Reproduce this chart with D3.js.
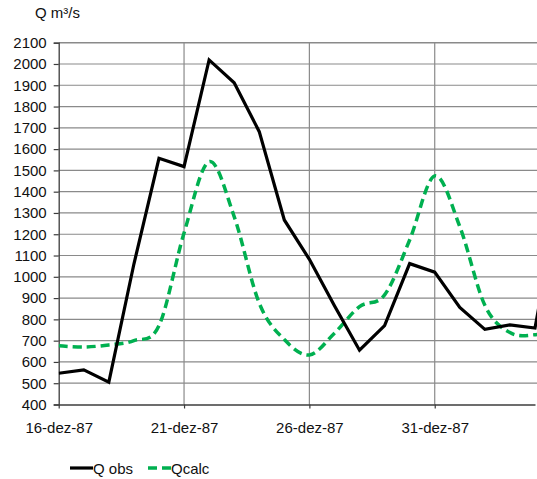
<!DOCTYPE html>
<html>
<head>
<meta charset="utf-8">
<script src="https://cdn.jsdelivr.net/npm/d3@7"></script>
<style>
  body { margin: 0; background: #fff; }
  svg { display: block; font-family: "Liberation Sans", Arial, sans-serif; }
</style>
</head>
<body>
<svg id="chart" width="537" height="479"></svg>
<script>
// daily values, 16-dez-87 onwards
const days = ["16-dez-87", "17-dez-87", "18-dez-87", "19-dez-87", "20-dez-87", "21-dez-87", "22-dez-87",
  "23-dez-87", "24-dez-87", "25-dez-87", "26-dez-87", "27-dez-87", "28-dez-87", "29-dez-87",
  "30-dez-87", "31-dez-87", "01-jan-88", "02-jan-88", "03-jan-88", "04-jan-88", "05-jan-88"];
const qObs = [547, 563, 505, 1060, 1557, 1518, 2019, 1912, 1682, 1267, 1082, 864, 655, 771,
  1062, 1022, 856, 753, 774, 759, 1400];
const qCalc = [676, 670, 680, 700, 770, 1206, 1541, 1283, 876, 705, 633, 735, 860, 915,
  1173, 1474, 1236, 866, 738, 728, 760];
const yTicks = d3.range(400, 2101, 100);
const xTicks = [0, 5, 10, 15];

const svg = d3.select("#chart");
const width = 537;
const margin = { top: 42.7, right: 0, bottom: 74.5, left: 58.7 };
const plotBottom = 479 - margin.bottom;

// Define scales
const xScale = d3.scaleLinear().domain([0, 19]).range([margin.left, 535]);
const yScale = d3.scaleLinear().domain([400, 2100]).range([plotBottom, margin.top]);

svg.append("clipPath").attr("id", "clip")
  .append("rect")
  .attr("x", margin.left).attr("y", 0)
  .attr("width", width - margin.left).attr("height", plotBottom + 2);

// Horizontal gridlines
svg.append("g")
  .selectAll("line")
  .data(yTicks.slice(1))
  .join("line")
  .attr("x1", margin.left).attr("x2", width)
  .attr("y1", (d) => yScale(d)).attr("y2", (d) => yScale(d))
  .attr("stroke", "#8a8a8a")
  .attr("stroke-width", (d) => d === 2100 ? 1.6 : 1.2);

// Vertical gridlines
svg.append("g")
  .selectAll("line")
  .data(xTicks.slice(1))
  .join("line")
  .attr("x1", (d) => xScale(d)).attr("x2", (d) => xScale(d))
  .attr("y1", margin.top).attr("y2", plotBottom)
  .attr("stroke", "#8a8a8a")
  .attr("stroke-width", 1.2);

// Y axis
const yAxis = svg.append("g")
  .attr("transform", `translate(${margin.left},0)`)
  .call(d3.axisLeft(yScale).tickValues(yTicks).tickSize(5).tickPadding(7).tickFormat(d3.format("d")));
yAxis.select(".domain").attr("stroke", "#3c3c3c").attr("stroke-width", 1.3);
yAxis.selectAll(".tick line").attr("stroke", "#3c3c3c").attr("stroke-width", 1.2);
yAxis.selectAll("text")
  .attr("font-size", 15).attr("fill", "#111")
  .style("font-family", "Liberation Sans, Arial, sans-serif");

// X axis
const xAxis = svg.append("g")
  .attr("transform", `translate(0,${plotBottom})`)
  .call(d3.axisBottom(xScale).tickValues(xTicks).tickSize(4).tickSizeOuter(0)
    .tickPadding(14).tickFormat((d) => days[d]));
xAxis.select(".domain").attr("stroke", "#3c3c3c").attr("stroke-width", 1.3);
xAxis.selectAll(".tick line").attr("stroke", "#3c3c3c").attr("stroke-width", 1.2);
xAxis.selectAll("text")
  .attr("font-size", 15).attr("fill", "#111")
  .style("font-family", "Liberation Sans, Arial, sans-serif");

// Axis title
svg.append("text")
  .attr("x", 35).attr("y", 18)
  .attr("font-size", 15).attr("fill", "#111")
  .text("Q m³/s");

// Lines
const plot = svg.append("g").attr("clip-path", "url(#clip)");

plot.append("path")
  .datum(qCalc)
  .attr("fill", "none")
  .attr("stroke", "#00b050")
  .attr("stroke-width", 3.5)
  .attr("stroke-dasharray", "9,5")
  .attr("d", d3.line().x((d, i) => xScale(i)).y((d) => yScale(d)).curve(d3.curveCardinal.tension(0)));

plot.append("path")
  .datum(qObs)
  .attr("fill", "none")
  .attr("stroke", "#000")
  .attr("stroke-width", 3.2)
  .attr("stroke-linejoin", "miter")
  .attr("d", d3.line().x((d, i) => xScale(i)).y((d) => yScale(d)));

// Legend
const legend = svg.append("g").attr("transform", "translate(0,468)");
legend.append("line").attr("x1", 70).attr("x2", 93).attr("y1", 0).attr("y2", 0)
  .attr("stroke", "#000").attr("stroke-width", 3.2);
legend.append("text").attr("x", 93).attr("y", 5.5).attr("font-size", 15).attr("fill", "#111").text("Q obs");
legend.append("line").attr("x1", 148).attr("x2", 171).attr("y1", 0).attr("y2", 0)
  .attr("stroke", "#00b050").attr("stroke-width", 3.5).attr("stroke-dasharray", "9,5");
legend.append("text").attr("x", 171).attr("y", 5.5).attr("font-size", 15).attr("fill", "#111").text("Qcalc");
</script>
</body>
</html>
